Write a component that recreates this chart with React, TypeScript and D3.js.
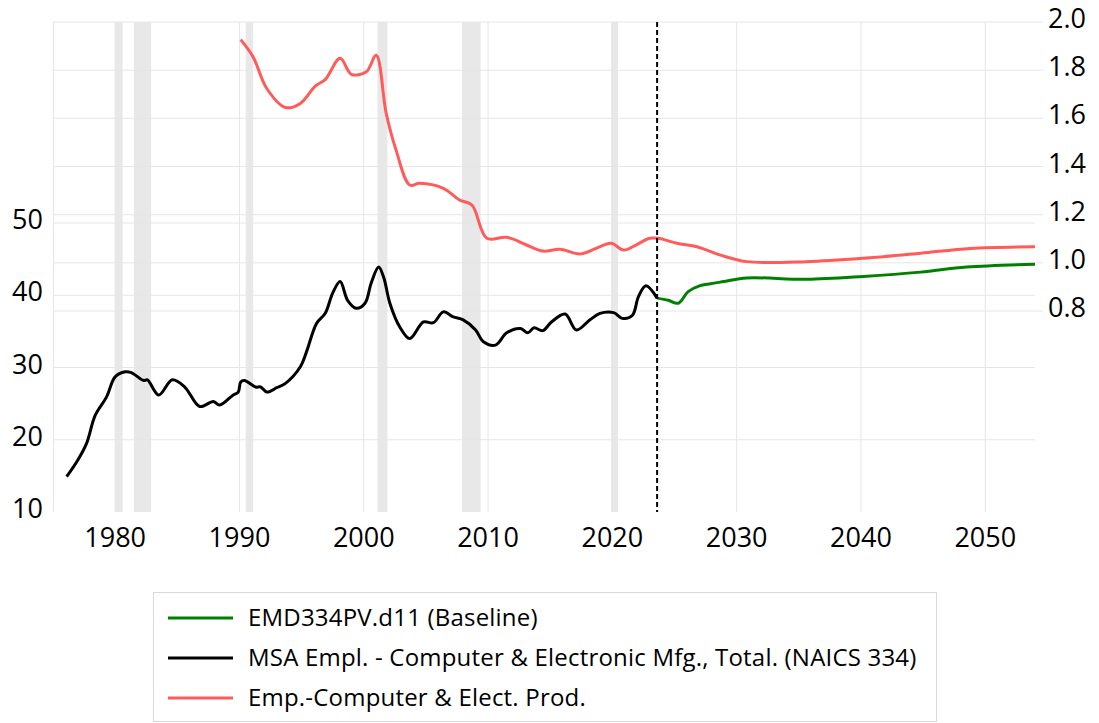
import React, { useEffect, useRef } from "react";
import * as d3 from "d3";

// MSA employment, computer & electronic mfg (thousands), history
const histYears = [1976.1, 1977.0, 1977.7, 1978.4, 1979.3, 1980.0, 1980.8, 1981.3, 1982.3, 1982.6, 1983.5, 1984.6, 1985.6, 1986.8, 1987.9, 1988.4, 1989.5, 1989.9, 1990.1, 1990.4, 1991.3, 1991.7, 1992.2, 1993.0, 1993.7, 1994.9, 1995.4, 1996.2, 1996.9, 1997.5, 1998.1, 1998.7, 1999.4, 2000.1, 2000.6, 2001.2, 2001.6, 2002.1, 2002.9, 2003.7, 2004.8, 2005.6, 2006.4, 2007.2, 2008.0, 2009.0, 2009.6, 2010.6, 2011.5, 2012.6, 2013.2, 2013.7, 2014.4, 2015.1, 2016.2, 2017.1, 2018.2, 2019.0, 2020.1, 2020.8, 2021.6, 2022.1, 2022.7, 2023.6];
const histValues = [14.9, 17.2, 19.5, 23.4, 25.9, 28.7, 29.4, 29.3, 28.2, 28.3, 26.2, 28.3, 27.3, 24.6, 25.3, 24.8, 26.2, 26.6, 28.0, 28.2, 27.3, 27.3, 26.6, 27.2, 27.8, 30.1, 32.2, 36.1, 37.5, 40.3, 41.9, 39.3, 38.2, 38.9, 41.7, 43.9, 42.5, 38.9, 35.6, 34.0, 36.3, 36.2, 37.7, 37.0, 36.6, 35.2, 33.6, 33.1, 34.8, 35.4, 34.8, 35.5, 35.1, 36.3, 37.4, 35.2, 36.6, 37.5, 37.6, 36.8, 37.2, 39.8, 41.3, 39.6];

// EMD334PV.d11 baseline forecast (thousands)
const fcstYears = [2023.6, 2024.5, 2025.3, 2026.1, 2027.0, 2027.9, 2029.0, 2030.8, 2035.6, 2040.2, 2044.8, 2048.5, 2054.0];
const fcstValues = [39.6, 39.3, 38.9, 40.5, 41.3, 41.6, 41.9, 42.4, 42.2, 42.6, 43.2, 43.9, 44.3];

// Emp.-Computer & Elect. Prod. (right axis)
const ratioYears = [1990.1, 1991.1, 1992.2, 1993.7, 1994.9, 1996.1, 1996.9, 1998.1, 1999.0, 2000.2, 2001.0, 2001.8, 2002.6, 2003.7, 2004.5, 2006.4, 2007.7, 2008.7, 2009.9, 2011.5, 2013.1, 2014.4, 2015.8, 2017.4, 2018.7, 2019.9, 2020.9, 2021.9, 2023.0, 2023.7, 2025.2, 2026.8, 2028.7, 2030.8, 2035.6, 2040.2, 2044.8, 2048.8, 2054.0];
const ratioValues = [1.927, 1.855, 1.724, 1.645, 1.662, 1.734, 1.761, 1.849, 1.783, 1.793, 1.862, 1.622, 1.468, 1.323, 1.330, 1.309, 1.261, 1.240, 1.102, 1.106, 1.074, 1.049, 1.056, 1.037, 1.060, 1.081, 1.053, 1.074, 1.102, 1.102, 1.081, 1.067, 1.032, 1.005, 1.005, 1.019, 1.040, 1.060, 1.067];

const recessionStarts = [1980.0, 1981.5, 1990.5, 2001.1, 2007.9, 2019.9];
const recessionEnds = [1980.6, 1982.9, 1991.1, 2001.9, 2009.4, 2020.45];

const xTicks = [1980, 1990, 2000, 2010, 2020, 2030, 2040, 2050];
const leftTicks = [10, 20, 30, 40, 50];
const rightTicks = [0.8, 1.0, 1.2, 1.4, 1.6, 1.8, 2.0];
const forecastStart = 2023.6;

const legendLabels = ["EMD334PV.d11 (Baseline)", "MSA Empl. - Computer & Electronic Mfg., Total. (NAICS 334)", "Emp.-Computer & Elect. Prod."];
const legendColors = ["#008000", "#000000", "#FF5B5B"];

const FONT = "'Open Sans', sans-serif";

export default function App() {
    const ref = useRef<SVGSVGElement>(null);

    useEffect(() => {
        const svg = d3.select(ref.current);
        svg.selectAll("*").remove();

        const left = 53, right = 1035, top = 22, bottom = 512;

        const x = d3.scaleLinear().domain([1975, 2054]).range([left, right]);
        // left axis: 10 at bottom, grid up to 50
        const yL = d3.scaleLinear().domain([10, 50]).range([bottom, 223]);
        const yR = d3.scaleLinear().domain([0.8, 2.0]).range([311, top]);

        // recession shading
        svg.append("g").selectAll("rect")
            .data(recessionStarts)
            .join("rect")
            .attr("x", d => x(d))
            .attr("width", (d, i) => x(recessionEnds[i]) - x(d))
            .attr("y", top)
            .attr("height", bottom - top)
            .attr("fill", "#E8E8E8");

        const grid = svg.append("g").attr("stroke", "#E6E6E6").attr("stroke-width", 1);
        grid.selectAll(".vx").data(xTicks).join("line")
            .attr("x1", d => x(d)).attr("x2", d => x(d))
            .attr("y1", top).attr("y2", bottom);
        grid.append("line").attr("x1", left + 0.5).attr("x2", left + 0.5).attr("y1", top).attr("y2", bottom);
        grid.selectAll(".hl").data(leftTicks.filter(d => d > 10)).join("line")
            .attr("x1", left).attr("x2", right)
            .attr("y1", d => yL(d)).attr("y2", d => yL(d));
        grid.selectAll(".hr").data(rightTicks).join("line")
            .attr("class", "hr")
            .attr("x1", left).attr("x2", right + 8)
            .attr("y1", d => yR(d)).attr("y2", d => yR(d));

        // axes labels
        svg.append("g").selectAll("text").data(xTicks).join("text")
            .attr("x", d => x(d)).attr("y", 547)
            .attr("text-anchor", "middle")
            .attr("font-family", FONT).attr("font-size", 27)
            .text(d => d);
        svg.append("g").selectAll("text").data(leftTicks).join("text")
            .attr("x", 43).attr("y", d => yL(d) + 6)
            .attr("text-anchor", "end")
            .attr("font-family", FONT).attr("font-size", 27)
            .text(d => d);
        svg.append("g").selectAll("text").data(rightTicks).join("text")
            .attr("x", 1048).attr("y", d => yR(d) + 6)
            .attr("font-family", FONT).attr("font-size", 27)
            .text(d => d3.format(".1f")(d));

        const drawSeries = (xs: number[], vs: number[], yScale: any, color: string) => {
            const pts = xs.map((d, i) => [x(d), yScale(vs[i])] as [number, number]);
            svg.append("path")
                .datum(pts)
                .attr("fill", "none")
                .attr("stroke", color)
                .attr("stroke-width", 3)
                .attr("stroke-linejoin", "round")
                .attr("d", d3.line().curve(d3.curveCatmullRom.alpha(0.5)) as any);
        };

        drawSeries(ratioYears, ratioValues, yR, "#FF5B5B");
        drawSeries(fcstYears, fcstValues, yL, "#008000");
        drawSeries(histYears, histValues, yL, "#000000");

        // forecast start marker
        svg.append("line")
            .attr("x1", x(forecastStart)).attr("x2", x(forecastStart))
            .attr("y1", top).attr("y2", bottom)
            .attr("stroke", "#000").attr("stroke-width", 2)
            .attr("stroke-dasharray", "5,3");

        // legend
        const lg = svg.append("g");
        lg.append("rect")
            .attr("x", 153.5).attr("y", 592.5).attr("width", 783).attr("height", 129)
            .attr("fill", "#fff").attr("stroke", "#D9D9D9");
        const rows = lg.selectAll("g.row").data(legendLabels).join("g")
            .attr("transform", (d, i) => `translate(0, ${618 + i * 40})`);
        rows.append("line")
            .attr("x1", 168).attr("x2", 233).attr("y1", 0).attr("y2", 0)
            .attr("stroke", (d, i) => legendColors[i]).attr("stroke-width", 3);
        rows.append("text")
            .attr("x", 248).attr("y", 8)
            .attr("font-family", FONT).attr("font-size", 24)
            .attr("letter-spacing", 0.2)
            .text(d => d);
    }, []);

    return (
        <svg ref={ref} width={1099} height={723}
            style={{ position: "absolute", left: 0, top: 0, background: "#fff" }} />
    );
}
